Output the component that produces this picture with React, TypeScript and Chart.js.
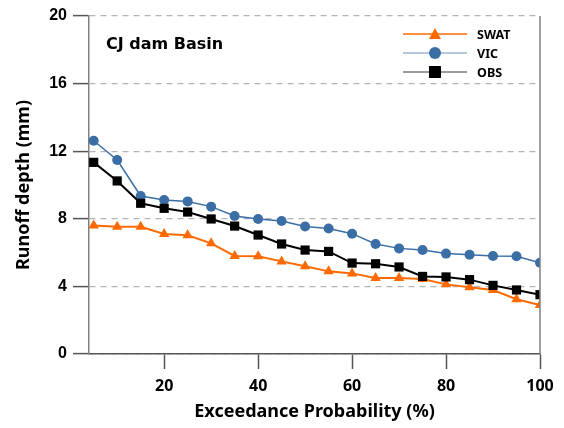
import React, { useEffect, useRef } from "react";
import { Chart, registerables } from "chart.js";
Chart.register(...registerables);

const probabilities = [5, 10, 15, 20, 25, 30, 35, 40, 45, 50, 55, 60, 65, 70, 75, 80, 85, 90, 95, 100];
const swatValues = [7.61, 7.53, 7.53, 7.10, 7.02, 6.55, 5.80, 5.78, 5.48, 5.19, 4.89, 4.77, 4.50, 4.50, 4.44, 4.12, 3.95, 3.79, 3.24, 2.90];
const vicValues = [12.62, 11.48, 9.35, 9.11, 9.03, 8.72, 8.17, 7.99, 7.87, 7.54, 7.43, 7.12, 6.51, 6.25, 6.15, 5.94, 5.88, 5.80, 5.78, 5.40];
const obsValues = [11.34, 10.24, 8.92, 8.62, 8.40, 7.99, 7.57, 7.04, 6.51, 6.15, 6.07, 5.38, 5.34, 5.15, 4.59, 4.56, 4.40, 4.06, 3.79, 3.51];
const xTickValues = [20, 40, 60, 80, 100];
const seriesNames = ["SWAT", "VIC", "OBS"];
const basinLabel = "CJ dam Basin";
const xTitle = "Exceedance Probability (%)";
const yTitle = "Runoff depth (mm)";

const ORANGE = "#ff6a00";
const BLUE = "#3a6ea5";
const BLACK = "#000000";

const toPoints = (vals: number[]) => vals.map((v, i) => ({ x: probabilities[i], y: v }));

const decorPlugin = {
  id: "decor",
  afterDraw(chart: any) {
    const { ctx, chartArea } = chart;
    ctx.save();
    // right border
    ctx.strokeStyle = "#808080";
    ctx.lineWidth = 1.5;
    ctx.beginPath();
    ctx.moveTo(chartArea.right, chartArea.top);
    ctx.lineTo(chartArea.right, chartArea.bottom);
    ctx.stroke();

    // basin label
    ctx.fillStyle = "#000";
    ctx.font = "bold 16px 'DejaVu Sans', sans-serif";
    ctx.textBaseline = "middle";
    ctx.textAlign = "left";
    ctx.fillText(basinLabel, chartArea.left + 17, chartArea.top + 29);

    // legend
    const lineColors = [ORANGE, "#9db5cf", "#7a7a7a"];
    const markColors = [ORANGE, BLUE, BLACK];
    const x0 = 403, x1 = 467, xm = 435, xt = 477;
    const ys = [34, 53, 72];
    ctx.font = "bold 12.5px 'Noto Sans', sans-serif";
    seriesNames.forEach((name, i) => {
      const y = ys[i];
      ctx.strokeStyle = lineColors[i];
      ctx.lineWidth = 1.5;
      ctx.beginPath();
      ctx.moveTo(x0, y);
      ctx.lineTo(x1, y);
      ctx.stroke();
      ctx.fillStyle = markColors[i];
      ctx.beginPath();
      if (i === 0) {
        ctx.moveTo(xm, y - 6);
        ctx.lineTo(xm + 6, y + 5);
        ctx.lineTo(xm - 6, y + 5);
        ctx.closePath();
      } else if (i === 1) {
        ctx.arc(xm, y, 6, 0, Math.PI * 2);
      } else {
        ctx.rect(xm - 6, y - 6, 12, 12);
      }
      ctx.fill();
      ctx.fillStyle = "#000";
      ctx.fillText(name, xt, y + 1);
    });
    ctx.restore();
  },
};

export default function App() {
  const ref = useRef<HTMLCanvasElement | null>(null);
  useEffect(() => {
    document.body.style.margin = "0";
    if (!ref.current) return;
    const chart = new Chart(ref.current, {
      type: "line",
      data: {
        datasets: [
          {
            label: seriesNames[0],
            data: toPoints(swatValues),
            borderColor: ORANGE,
            backgroundColor: ORANGE,
            borderWidth: 2,
            pointStyle: "triangle",
            pointRadius: 6,
            pointBorderWidth: 0,
            order: 3,
          },
          {
            label: seriesNames[1],
            data: toPoints(vicValues),
            borderColor: BLUE,
            backgroundColor: BLUE,
            borderWidth: 1.5,
            pointStyle: "circle",
            pointRadius: 5,
            pointBorderWidth: 0,
            order: 2,
          },
          {
            label: seriesNames[2],
            data: toPoints(obsValues),
            borderColor: BLACK,
            backgroundColor: BLACK,
            borderWidth: 2,
            pointStyle: "rect",
            pointRadius: 6.5,
            pointBorderWidth: 0,
            order: 1,
          },
        ],
      },
      options: {
        animation: false,
        responsive: false,
        maintainAspectRatio: false,
        layout: { padding: { top: 16, right: 24, left: 0, bottom: 0 } },
        plugins: { legend: { display: false }, tooltip: { enabled: false } },
        scales: {
          x: {
            type: "linear",
            min: 4,
            max: 100,
            afterBuildTicks: (scale: any) => {
              scale.ticks = xTickValues.map((v) => ({ value: v }));
            },
            afterFit: (scale: any) => {
              scale.height = 74;
            },
            grid: {
              drawOnChartArea: false,
              drawTicks: true,
              tickLength: 15,
              tickColor: "#555",
              tickWidth: 1.5,
            },
            border: { color: "#555", width: 1.5 },
            ticks: {
              color: "#000",
              font: { family: "'Noto Sans', sans-serif", size: 16, weight: "bold" },
              padding: 8,
              maxRotation: 0,
            },
            title: {
              display: true,
              text: xTitle,
              color: "#000",
              font: { family: "'Noto Sans', sans-serif", size: 18, weight: "bold" },
              padding: { top: 0, bottom: 5 },
            },
          },
          y: {
            min: 0,
            max: 20,
            afterFit: (scale: any) => {
              scale.width = 89;
            },
            ticks: {
              stepSize: 4,
              color: "#000",
              font: { family: "'Liberation Sans', Arial, sans-serif", size: 16, weight: "bold" },
              padding: 6,
            },
            grid: {
              color: "#b4b4b4",
              lineWidth: 1.2,
              drawTicks: true,
              tickLength: 16,
              tickColor: "#555",
              tickWidth: 1.5,
              tickBorderDash: [],
            },
            border: { color: "#808080", width: 1.5, dash: [6, 5] },
            title: {
              display: true,
              text: yTitle,
              color: "#000",
              font: { family: "'Noto Sans', sans-serif", size: 18, weight: "bold" },
              padding: { top: 13, bottom: 0 },
            },
          },
        },
      },
      plugins: [decorPlugin],
    } as any);
    return () => chart.destroy();
  }, []);
  return (
    <div style={{ position: "absolute", left: 0, top: 0, width: 564, height: 428, background: "#fff" }}>
      <canvas ref={ref} width={564} height={428} style={{ display: "block" }} />
    </div>
  );
}
